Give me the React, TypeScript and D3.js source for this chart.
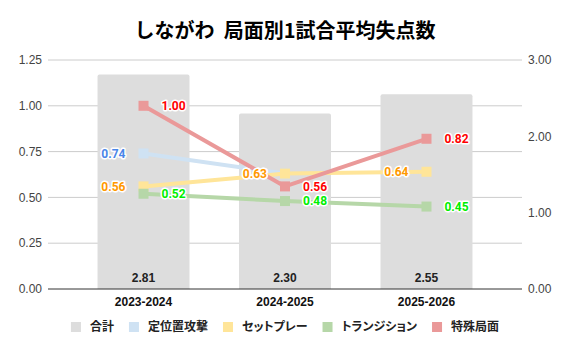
import React, { useEffect, useRef } from 'react';
import * as d3 from 'd3';

const seasons = ['2023-2024', '2024-2025', '2025-2026'];
const totals = [2.81, 2.3, 2.55];
const positional: (number | null)[] = [0.74, 0.63, null];
const setPiece: (number | null)[] = [0.56, 0.63, 0.64];
const transition: (number | null)[] = [0.52, 0.48, 0.45];
const special: (number | null)[] = [1.0, 0.56, 0.82];
const leftTicks = [0, 0.25, 0.5, 0.75, 1.0, 1.25];
const rightTicks = [0, 1, 2, 3];
const seriesNames = ['合計', '定位置攻撃', 'セットプレー', 'トランジション', '特殊局面'];

const App: React.FC = () => {
  const width = 570;
  const height = 353;
  const svgRef = useRef<SVGSVGElement>(null);

  useEffect(() => {
    if (!svgRef.current) return;
    const svg = d3.select(svgRef.current);
    svg.selectAll('*').remove();

    const numFont = '"Liberation Sans", Arial, sans-serif';
    const jpFont = '"Noto Sans CJK JP", "Noto Sans", sans-serif';

    const left = 48;
    const right = 522;
    const top = 60;
    const bottom = 289;

    const x = d3.scaleBand<string>().domain(seasons).range([left, right]).padding(0.35);
    const yL = d3.scaleLinear().domain([0, 1.25]).range([bottom, top]);
    const yR = d3.scaleLinear().domain([0, 3]).range([bottom, top]);

    // title
    svg.append('text')
      .attr('x', 285)
      .attr('y', 38)
      .attr('text-anchor', 'middle')
      .attr('font-family', jpFont)
      .attr('font-weight', 'bold')
      .attr('font-size', 20)
      .attr('fill', '#000')
      .text('しながわ\u00a0\u00a0局面別1試合平均失点数');

    // gridlines + left ticks
    leftTicks.forEach(t => {
      if (t > 0) {
        svg.append('line')
          .attr('x1', left).attr('x2', right)
          .attr('y1', yL(t)).attr('y2', yL(t))
          .attr('stroke', '#cccccc').attr('stroke-width', 1);
      }
      svg.append('text')
        .attr('x', 42)
        .attr('y', yL(t))
        .attr('dy', '0.35em')
        .attr('text-anchor', 'end')
        .attr('font-family', numFont)
        .attr('font-size', 12)
        .attr('fill', '#444')
        .text(t.toFixed(2));
    });

    rightTicks.forEach(t => {
      svg.append('text')
        .attr('x', 528)
        .attr('y', yR(t))
        .attr('dy', '0.35em')
        .attr('text-anchor', 'start')
        .attr('font-family', numFont)
        .attr('font-size', 12)
        .attr('fill', '#444')
        .text(t.toFixed(2));
    });

    // bars (right axis)
    const r = 2;
    totals.forEach((v, i) => {
      const bx = x(seasons[i])!;
      const bw = x.bandwidth();
      const by = yR(v);
      const p = d3.path();
      p.moveTo(bx, bottom);
      p.lineTo(bx, by + r);
      p.quadraticCurveTo(bx, by, bx + r, by);
      p.lineTo(bx + bw - r, by);
      p.quadraticCurveTo(bx + bw, by, bx + bw, by + r);
      p.lineTo(bx + bw, bottom);
      p.closePath();
      svg.append('path').attr('d', p.toString()).attr('fill', '#dddddd');
      svg.append('text')
        .attr('x', bx + bw / 2)
        .attr('y', 278)
        .attr('dy', '0.35em')
        .attr('text-anchor', 'middle')
        .attr('font-family', numFont)
        .attr('font-weight', 'bold')
        .attr('font-size', 12)
        .attr('fill', '#222')
        .text(v.toFixed(2));
    });

    // baseline
    svg.append('line')
      .attr('x1', left).attr('x2', right)
      .attr('y1', bottom).attr('y2', bottom)
      .attr('stroke', '#333').attr('stroke-width', 1);

    // category labels
    seasons.forEach(s => {
      svg.append('text')
        .attr('x', x(s)! + x.bandwidth() / 2)
        .attr('y', 306)
        .attr('text-anchor', 'middle')
        .attr('font-family', numFont)
        .attr('font-weight', 'bold')
        .attr('font-size', 12)
        .attr('fill', '#111')
        .text(s);
    });

    const series = [
      { values: positional, color: '#cfe2f3', label: '#4a86e8', side: -1 },
      { values: setPiece, color: '#ffe599', label: '#ff9900', side: -1 },
      { values: transition, color: '#b6d7a8', label: '#00ee00', side: 1 },
      { values: special, color: '#ea9999', label: '#ff0000', side: 1 },
    ];

    const cx = (i: number) => x(seasons[i])! + x.bandwidth() / 2;

    series.forEach(s => {
      const line = d3.line<number | null>()
        .defined(d => d != null)
        .x((_, i) => cx(i))
        .y(d => yL(d as number));
      svg.append('path')
        .datum(s.values)
        .attr('d', line)
        .attr('fill', 'none')
        .attr('stroke', s.color)
        .attr('stroke-width', 4)
        .attr('stroke-linejoin', 'round');
      s.values.forEach((v, i) => {
        if (v == null) return;
        svg.append('rect')
          .attr('x', cx(i) - 5)
          .attr('y', yL(v) - 5)
          .attr('width', 10)
          .attr('height', 10)
          .attr('fill', s.color);
      });
    });

    // data labels on top
    series.forEach(s => {
      s.values.forEach((v, i) => {
        if (v == null) return;
        svg.append('text')
          .attr('x', cx(i) + s.side * 18)
          .attr('y', yL(v))
          .attr('dy', '0.35em')
          .attr('text-anchor', s.side < 0 ? 'end' : 'start')
          .attr('font-family', '"Roboto", "Liberation Sans", sans-serif')
          .attr('font-weight', 'bold')
          .attr('font-size', 12)
          .attr('fill', s.label)
          .attr('stroke', '#fff')
          .attr('stroke-width', 3)
          .attr('stroke-linejoin', 'round')
          .attr('paint-order', 'stroke')
          .text(v.toFixed(2));
      });
    });

    // legend
    const legendColors = ['#dddddd', ...series.map(s => s.color)];
    const lg = svg.append('g');
    const gap = 15;
    let lx = 0;
    seriesNames.forEach((name, i) => {
      lg.append('rect')
        .attr('x', lx)
        .attr('y', 322)
        .attr('width', 10)
        .attr('height', 10)
        .attr('fill', legendColors[i]);
      const t = lg.append('text')
        .attr('x', lx + 19)
        .attr('y', 327)
        .attr('dy', '0.35em')
        .attr('font-family', jpFont)
        .attr('font-weight', 'bold')
        .attr('font-size', 12)
        .attr('fill', '#222')
        .attr('style', 'font-feature-settings: "palt" 1; font-kerning: normal')
        .text(name);
      const w = (t.node() as SVGTextElement).getComputedTextLength();
      lx += 19 + w + gap;
    });
    const total = lx - gap;
    lg.attr('transform', `translate(${285 - total / 2},0)`);
  }, []);

  return (
    <svg
      ref={svgRef}
      width={width}
      height={height}
      style={{ position: 'absolute', left: 0, top: 0, background: '#fff' }}
    />
  );
};

export default App;
